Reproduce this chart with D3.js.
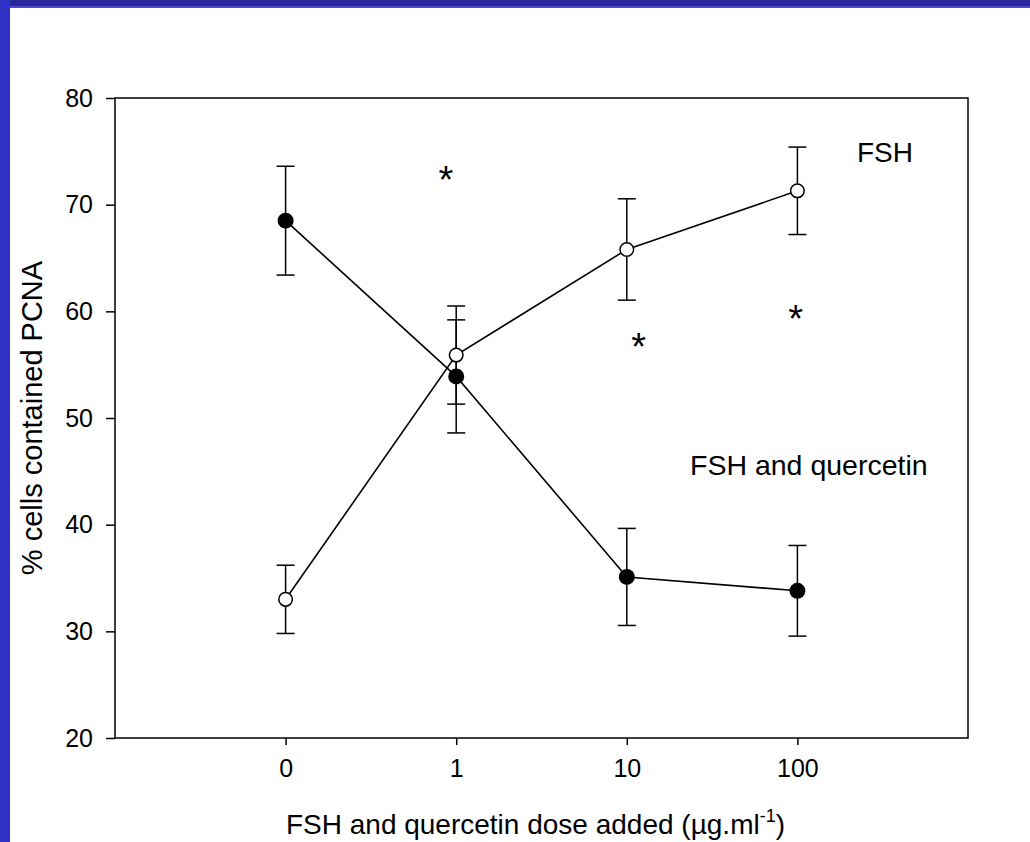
<!DOCTYPE html>
<html>
<head>
<meta charset="utf-8">
<script src="https://cdn.jsdelivr.net/npm/d3@7"></script>
<style>
  html, body { margin: 0; padding: 0; background: #ffffff; }
  svg { display: block; }
  svg text { font-family: "Liberation Sans", Arial, Helvetica, sans-serif; }
</style>
</head>
<body>
<svg id="chart" width="1030" height="842"></svg>
<script>
// Dose categories (µg/ml) shown on the x axis
const doses = ["0", "1", "10", "100"];

// FSH alone (open circles): mean and error
const fshMean = [33.0, 55.9, 65.8, 71.3];
const fshErr  = [3.2, 4.6, 4.75, 4.1];

// FSH and quercetin (filled circles): mean and error
const fqMean = [68.5, 53.9, 35.1, 33.8];
const fqErr  = [5.1, 5.3, 4.55, 4.25];

// Significance markers (category position, value)
const starX = [0.94, 2.07, 2.99];
const starY = [73.0, 57.3, 59.9];

const yTicks = [20, 30, 40, 50, 60, 70, 80];

const svg = d3.select("#chart");
const W = 1030, H = 842;
const FONT = "'Liberation Sans', Arial, Helvetica, sans-serif";

// slide background with blue frame on top and left
svg.append("rect").attr("x", 0).attr("y", 0).attr("width", W).attr("height", H).attr("fill", "#ffffff");
svg.append("rect").attr("x", 0).attr("y", 0).attr("width", W).attr("height", 7).attr("fill", "#282898");
svg.append("rect").attr("x", 0).attr("y", 6).attr("width", W).attr("height", 2).attr("fill", "#4a4ad0");
svg.append("rect").attr("x", 0).attr("y", 0).attr("width", 10).attr("height", H).attr("fill", "#3030c4");

const plot = { left: 115, top: 98, right: 968, bottom: 738 };

const x = d3.scaleLinear().domain([-1, 4]).range([plot.left, plot.right]);
const y = d3.scaleLinear().domain([20, 80]).range([plot.bottom, plot.top]);

const g = svg.append("g");

// frame
g.append("rect")
  .attr("x", plot.left).attr("y", plot.top)
  .attr("width", plot.right - plot.left).attr("height", plot.bottom - plot.top)
  .attr("fill", "none").attr("stroke", "#000").attr("stroke-width", 1.5);

// y axis
const yAxis = d3.axisLeft(y).tickValues(yTicks).tickSize(9).tickPadding(13).tickFormat(d3.format("d"));
const ya = g.append("g").attr("transform", `translate(${plot.left},0)`).call(yAxis)
  .attr("font-family", FONT);
ya.select(".domain").remove();
ya.selectAll(".tick line").attr("stroke", "#000").attr("stroke-width", 1.5);
ya.selectAll(".tick text").attr("font-size", 25).attr("fill", "#000");

// x axis
const xAxis = d3.axisBottom(x).tickValues(d3.range(doses.length)).tickSize(7).tickPadding(14)
  .tickFormat(i => doses[i]);
const xa = g.append("g").attr("transform", `translate(0,${plot.bottom})`).call(xAxis)
  .attr("font-family", FONT);
xa.select(".domain").remove();
xa.selectAll(".tick line").attr("stroke", "#000").attr("stroke-width", 1.5);
xa.selectAll(".tick text").attr("font-size", 25).attr("fill", "#000");

// axis titles
const xt = svg.append("text")
  .attr("x", (plot.left + plot.right) / 2 - 6).attr("y", 834)
  .attr("text-anchor", "middle").attr("font-size", 28).attr("fill", "#000");
xt.append("tspan").text("FSH and quercetin dose added (µg.ml");
xt.append("tspan").attr("font-size", 18).attr("dy", -12).text("-1");
xt.append("tspan").attr("dy", 12).text(")");

svg.append("text")
  .attr("transform", "translate(42,418) rotate(-90)")
  .attr("text-anchor", "middle").attr("font-size", 29).attr("fill", "#000")
  .text("% cells contained PCNA");

const line = d3.line().x((d, i) => x(i)).y(d => y(d));
const capHalf = 9;

function drawErrors(means, errs) {
  const eg = g.append("g").attr("stroke", "#000").attr("stroke-width", 1.5);
  means.forEach((m, i) => {
    const cx = x(i);
    eg.append("line").attr("x1", cx).attr("x2", cx).attr("y1", y(m - errs[i])).attr("y2", y(m + errs[i]));
    eg.append("line").attr("x1", cx - capHalf).attr("x2", cx + capHalf).attr("y1", y(m + errs[i])).attr("y2", y(m + errs[i]));
    eg.append("line").attr("x1", cx - capHalf).attr("x2", cx + capHalf).attr("y1", y(m - errs[i])).attr("y2", y(m - errs[i]));
  });
}

drawErrors(fqMean, fqErr);
drawErrors(fshMean, fshErr);

g.append("path").datum(fqMean).attr("d", line).attr("fill", "none").attr("stroke", "#000").attr("stroke-width", 1.6);
g.append("path").datum(fshMean).attr("d", line).attr("fill", "none").attr("stroke", "#000").attr("stroke-width", 1.6);

g.selectAll("circle.fq").data(fqMean).enter().append("circle")
  .attr("class", "fq").attr("cx", (d, i) => x(i)).attr("cy", d => y(d)).attr("r", 8)
  .attr("fill", "#000");

g.selectAll("circle.fsh").data(fshMean).enter().append("circle")
  .attr("class", "fsh").attr("cx", (d, i) => x(i)).attr("cy", d => y(d)).attr("r", 6.8)
  .attr("fill", "#fff").attr("stroke", "#000").attr("stroke-width", 1.5);

// asterisks: glyph sits high in the em box, shift baseline down to centre it
g.selectAll("text.star").data(starX).enter().append("text")
  .attr("class", "star")
  .attr("x", d => x(d)).attr("y", (d, i) => y(starY[i]) + 20)
  .attr("text-anchor", "middle").attr("font-size", 38).attr("fill", "#000")
  .text("*");

// series labels
svg.append("text").attr("x", 857).attr("y", 162).attr("font-size", 28).attr("fill", "#000").text("FSH");
svg.append("text").attr("x", 690).attr("y", 475).attr("font-size", 28.5).attr("fill", "#000").text("FSH and quercetin");
</script>
</body>
</html>
